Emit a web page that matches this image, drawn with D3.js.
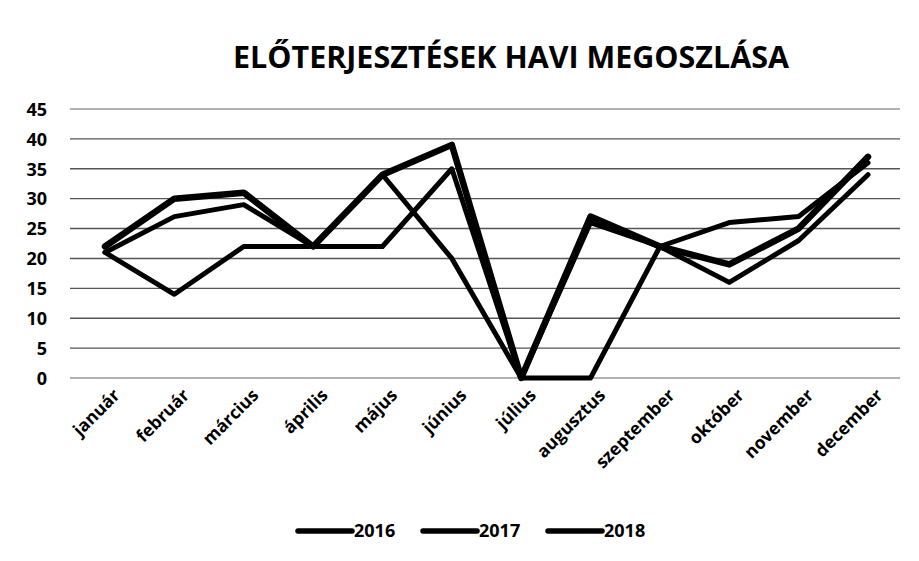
<!DOCTYPE html>
<html>
<head>
<meta charset="utf-8">
<script src="https://cdn.jsdelivr.net/npm/d3@7"></script>
<style>
    body { margin: 0; background: #fff; }
    text { font-family: "Open Sans", "DejaVu Sans", sans-serif; font-weight: bold; fill: #000; }
</style>
</head>
<body>
<svg id="chart" width="919" height="561"></svg>
<script>
// chart data
let months = ["január", "február", "március", "április", "május", "június",
    "július", "augusztus", "szeptember", "október", "november", "december"];
let years = ["2016", "2017", "2018"];
let values2016 = [21, 14, 22, 22, 22, 35, 0, 0, 22, 26, 27, 36];
let values2017 = [21, 27, 29, 22, 34, 20, 0, 26, 22, 16, 23, 34];
let values2018 = [22, 30, 31, 22, 34, 39, 0, 27, 22, 19, 25, 37];
let yTicks = [0, 5, 10, 15, 20, 25, 30, 35, 40, 45];

let svg = d3.select("#chart");

// Set up the scales
let xScale = d3.scalePoint()
    .domain(months)
    .range([105, 868]);
let yScale = d3.scaleLinear()
    .domain([0, 45])
    .range([378, 109]);

// title
svg.append("text")
    .attr("x", 511)
    .attr("y", 68)
    .attr("text-anchor", "middle")
    .attr("font-size", 30)
    .attr("textLength", 556)
    .attr("lengthAdjust", "spacingAndGlyphs")
    .text("ELŐTERJESZTÉSEK HAVI MEGOSZLÁSA");

// gridlines
svg.append("g")
    .selectAll("line")
    .data(yTicks)
    .join("line")
    .attr("x1", 70)
    .attr("x2", 900)
    .attr("y1", d => yScale(d))
    .attr("y2", d => yScale(d))
    .attr("stroke", d => (d == 0 || d == 45) ? "#999" : "#555")
    .attr("stroke-width", 1.4);

// y axis (labels only)
let yAxis = d3.axisLeft(yScale).tickValues(yTicks).tickSize(0).tickPadding(0);
let gy = svg.append("g")
    .attr("transform", "translate(47,0)")
    .call(yAxis);
gy.select(".domain").remove();
gy.selectAll("text")
    .attr("font-size", 18)
    .attr("font-family", null)
    .attr("dy", "0.35em");

// x axis (rotated labels)
let xAxis = d3.axisBottom(xScale).tickSize(0).tickPadding(0);
let gx = svg.append("g")
    .attr("transform", "translate(0,389)")
    .call(xAxis);
gx.select(".domain").remove();
gx.selectAll("text")
    .attr("font-size", 17.5)
    .attr("font-family", null)
    .attr("text-anchor", "end")
    .attr("dy", "0.6em")
    .attr("transform", "translate(8,0) rotate(-45)");

// lines
let series = [
    { name: years[0], values: values2016, width: 5 },
    { name: years[1], values: values2017, width: 5 },
    { name: years[2], values: values2018, width: 6.5 }
];

let lineGenerator = d3.line()
    .x((d, i) => xScale(months[i]))
    .y(d => yScale(d));

svg.append("g")
    .selectAll("path")
    .data(series)
    .join("path")
    .attr("d", d => lineGenerator(d.values))
    .attr("fill", "none")
    .attr("stroke", "#000")
    .attr("stroke-width", d => d.width)
    .attr("stroke-linejoin", "round")
    .attr("stroke-linecap", "round");

// legend
let legend = svg.append("g")
    .selectAll("g")
    .data(series)
    .join("g")
    .attr("transform", (d, i) => `translate(${298 + i * 125},531)`);
legend.append("line")
    .attr("x1", 0)
    .attr("x2", 54)
    .attr("stroke", "#000")
    .attr("stroke-width", 5.5)
    .attr("stroke-linecap", "round");
legend.append("text")
    .attr("x", 56)
    .attr("dy", "0.35em")
    .attr("font-size", 18)
    .text(d => d.name);
</script>
</body>
</html>
